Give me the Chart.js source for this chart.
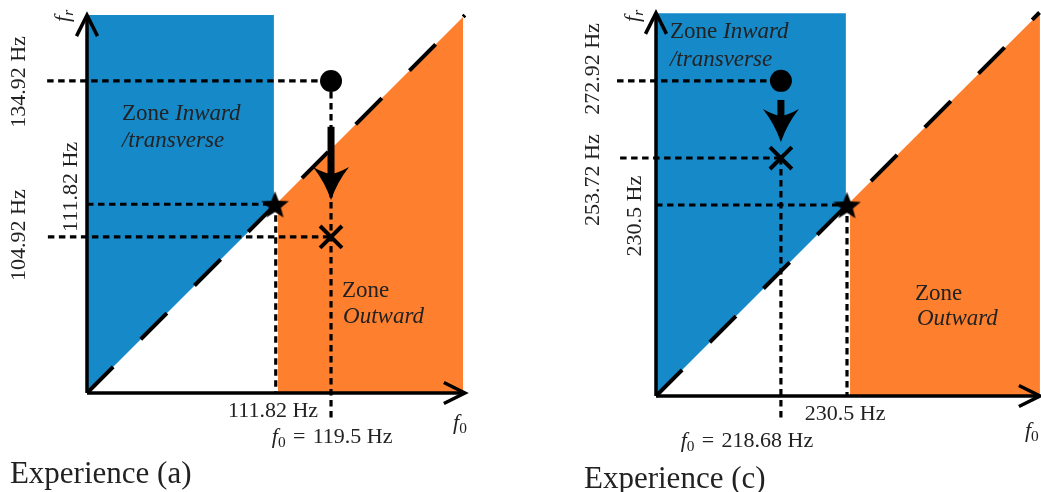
<!DOCTYPE html>
<html><head><meta charset="utf-8">
<script src="https://cdn.jsdelivr.net/npm/chart.js@4.4.1/dist/chart.umd.min.js"></script>
<style>
html,body{margin:0;padding:0;background:#fff;width:1041px;height:492px;overflow:hidden}
#wrapA{position:absolute;left:0;top:0;width:520px;height:492px}
#wrapC{position:absolute;left:520px;top:0;width:521px;height:492px}
canvas{display:block}
</style></head><body>
<div id="wrapA"><canvas id="cA" width="520" height="492"></canvas></div>
<div id="wrapC"><canvas id="cC" width="521" height="492"></canvas></div>
<script>
// ---------- Panel (a) : schematic units, diagonal f_r = f_0 runs 0..100 ----------
const A_BLUE_X   = [0, 0, 49.7, 49.7];
const A_BLUE_Y   = [0, 100.5, 100.5, 49.7];
const A_ORANGE_X = [50.8, 50.8, 100, 100];
const A_ORANGE_Y = [0, 50.8, 100, 0];
const A_DIAG     = [0, 100.5];
const A_AXIS_END = [100.5, 100.5];
const A_START    = [64.9, 83.0];   // initial point (circle)
const A_END      = [64.9, 41.5];   // final point (cross)
const A_STAR     = [50.0, 50.2];   // critical point (star)
const A_ARROW    = [64.9, 70.8, 51.3]; // x, shaft start, tip
const A_H_Y      = [83.0, 50.2, 41.5];
const A_H_X0     = [-10.6, 0, -10.4];
const A_H_X1     = [64.9, 50.0, 64.9];
const A_V_X      = [50.2, 64.9];
const A_V_Y0     = [50.2, 83.0];
const A_V_Y1     = [0, -6.9];
const A_Y_LABELS = ['134.92 Hz', '111.82 Hz', '104.92 Hz'];
const A_X_LABELS = ['111.82 Hz', '119.5 Hz'];
const A_CAPTION  = 'Experience (a)';

// ---------- Panel (c) ----------
const C_BLUE_X   = [0, 0, 49.7, 49.7];
const C_BLUE_Y   = [0, 100.2, 100.2, 49.7];
const C_ORANGE_X = [50.8, 50.8, 100.5, 100.5];
const C_ORANGE_Y = [0, 50.8, 100.3, 0];
const C_DIAG     = [0, 100.4];
const C_AXIS_END = [100.5, 100.3];
const C_START    = [32.7, 82.5];
const C_END      = [32.7, 62.3];
const C_STAR     = [50.0, 50.0];
const C_ARROW    = [32.7, 77.5, 66.5];
const C_H_Y      = [82.5, 62.3, 50.0];
const C_H_X0     = [-10.2, -9.4, 0];
const C_H_X1     = [32.7, 32.7, 50.0];
const C_V_X      = [32.7, 50.0];
const C_V_Y0     = [62.3, 50.0];
const C_V_Y1     = [-5.8, 0];
const C_Y_LABELS = ['272.92 Hz', '253.72 Hz', '230.5 Hz'];
const C_X_LABELS = ['230.5 Hz', '218.68 Hz'];
const C_CAPTION  = 'Experience (c)';

const BLUE = '#1689c9', ORANGE = '#fe7f2d', TXT = '#222222';
const FAM = '"Liberation Serif", serif';
const EQ = '\u2004=\u2004';

function pts(xs, ys) { return xs.map((x, i) => ({x, y: ys[i]})); }
function seg(x0, y0, x1, y1) { return [{x: x0, y: y0}, {x: x1, y: y1}]; }

function makeStar(R, r) {
  const c = document.createElement('canvas');
  const s = Math.ceil(2 * R + 2);
  c.width = c.height = s;
  const g = c.getContext('2d');
  g.translate(s / 2, s / 2 + 1.5);
  g.beginPath();
  for (let i = 0; i < 10; i++) {
    const rr = i % 2 ? r : R;
    const a = -Math.PI / 2 + i * Math.PI / 5;
    g.lineTo(rr * Math.cos(a), rr * Math.sin(a));
  }
  g.closePath(); g.fillStyle = '#000'; g.fill();
  return c;
}
const STAR_IMG = makeStar(14.5, 6.2);

function fontFor(st, size) {
  const it = st === 'i' || st === 'si';
  const sz = st[0] === 's' ? size * 0.7 : size;
  return (it ? 'italic ' : '') + sz.toFixed(1) + 'px ' + FAM;
}
function drawRuns(ctx, runs, cx, cy, size, align, rot) {
  ctx.save();
  ctx.translate(cx, cy);
  if (rot) ctx.rotate(-Math.PI / 2);
  let w = 0;
  for (const [t, s] of runs) { ctx.font = fontFor(s, size); w += ctx.measureText(t).width; }
  let x0 = align === 'center' ? -w / 2 : align === 'right' ? -w : 0;
  ctx.textBaseline = 'alphabetic'; ctx.textAlign = 'left'; ctx.fillStyle = TXT;
  const base = size * 0.34;
  for (const [t, s] of runs) {
    ctx.font = fontFor(s, size);
    ctx.fillText(t, x0, base + (s[0] === 's' ? size * 0.18 : 0));
    x0 += ctx.measureText(t).width;
  }
  ctx.restore();
}

function makeAnnot(cfg) {
  return {
    id: 'annot',
    afterDatasetsDraw(chart) {
      const {ctx} = chart; const sx = chart.scales.x, sy = chart.scales.y;
      const X = v => sx.getPixelForValue(v), Y = v => sy.getPixelForValue(v);
      ctx.save();
      ctx.strokeStyle = '#000'; ctx.lineWidth = 3.5; ctx.lineJoin = 'miter'; ctx.lineCap = 'butt';
      const tx = X(cfg.axisEnd[0]), ty = Y(0);
      ctx.beginPath(); ctx.moveTo(tx - 21, ty - 10.5); ctx.lineTo(tx, ty); ctx.lineTo(tx - 21, ty + 10.5); ctx.stroke();
      const ux = X(0), uy = Y(cfg.axisEnd[1]);
      ctx.beginPath(); ctx.moveTo(ux - 10.5, uy + 21); ctx.lineTo(ux, uy); ctx.lineTo(ux + 10.5, uy + 21); ctx.stroke();
      const ax = X(cfg.arrow[0]), a0 = Y(cfg.arrow[1]), tip = Y(cfg.arrow[2]);
      const L = 33, W = 18, N = 26;
      ctx.fillStyle = '#000';
      ctx.fillRect(ax - 3.5, a0, 7, (tip - N + 3) - a0);
      ctx.beginPath();
      ctx.moveTo(ax, tip);
      ctx.quadraticCurveTo(ax - W * 0.35, tip - L * 0.55, ax - W, tip - L);
      ctx.quadraticCurveTo(ax - W * 0.4, tip - N - 1, ax, tip - N);
      ctx.quadraticCurveTo(ax + W * 0.4, tip - N - 1, ax + W, tip - L);
      ctx.quadraticCurveTo(ax + W * 0.35, tip - L * 0.55, ax, tip);
      ctx.closePath(); ctx.fill();
      for (const t of cfg.texts) drawRuns(ctx, t.r, X(t.p[0]), Y(t.p[1]), t.s || 22, t.a || 'center', t.rot);
      ctx.restore();
    }
  };
}

function buildPanel(id, d, view, texts) {
  const ds = [];
  const line = (data, extra) => Object.assign({data, showLine: true, pointRadius: 0, borderColor: '#000', fill: false}, extra);
  ds.push(line(pts(d.blueX, d.blueY), {fill: 'shape', backgroundColor: BLUE, borderWidth: 0, order: 50}));
  ds.push(line(pts(d.orangeX, d.orangeY), {fill: 'shape', backgroundColor: ORANGE, borderWidth: 0, order: 49}));
  ds.push(line(seg(d.diag[0], d.diag[0], d.diag[1], d.diag[1]), {borderWidth: 4, borderDash: [37, 39], order: 40}));
  d.hY.forEach((yv, i) => ds.push(line(seg(d.hX0[i], yv, d.hX1[i], yv), {borderWidth: 3.2, borderDash: [6.5, 4.5], order: 30})));
  d.vX.forEach((xv, i) => ds.push(line(seg(xv, d.vY0[i], xv, d.vY1[i]), {borderWidth: 3.2, borderDash: [6.5, 4.5], order: 30})));
  ds.push(line(seg(0, 0, d.axisEnd[0] - 0.4, 0), {borderWidth: 3.5, order: 20}));
  ds.push(line(seg(0, 0, 0, d.axisEnd[1] - 0.4), {borderWidth: 3.5, order: 20}));
  ds.push({data: [{x: d.start[0], y: d.start[1]}], pointStyle: 'circle', pointRadius: 11, backgroundColor: '#000', borderWidth: 0, order: 1});
  ds.push({data: [{x: d.star[0], y: d.star[1]}], pointStyle: STAR_IMG, pointRadius: 14, order: 0});
  ds.push({data: [{x: d.end[0], y: d.end[1]}], pointStyle: 'crossRot', pointRadius: 15.5, borderColor: '#000', borderWidth: 4, order: 0});
  return new Chart(document.getElementById(id), {
    type: 'scatter',
    data: {datasets: ds},
    options: {
      responsive: false, animation: false, devicePixelRatio: 1, events: [],
      layout: {padding: 0, autoPadding: false},
      plugins: {legend: {display: false}, tooltip: {enabled: false}},
      scales: {
        x: {type: 'linear', display: false, bounds: 'data', grace: 0, min: view[0], max: view[1]},
        y: {type: 'linear', display: false, bounds: 'data', grace: 0, min: view[2], max: view[3]}
      }
    },
    plugins: [makeAnnot({axisEnd: d.axisEnd, arrow: d.arrow, texts})]
  });
}

buildPanel('cA', {
  blueX: A_BLUE_X, blueY: A_BLUE_Y, orangeX: A_ORANGE_X, orangeY: A_ORANGE_Y, diag: A_DIAG,
  axisEnd: A_AXIS_END, start: A_START, end: A_END, star: A_STAR, arrow: A_ARROW,
  hY: A_H_Y, hX0: A_H_X0, hX1: A_H_X1, vX: A_V_X, vY0: A_V_Y0, vY1: A_V_Y1
}, [-87 / 3.76, 433 / 3.76, -99 / 3.76, 393 / 3.76], [
  {r: [['f', 'i'], ['r', 'si']], p: [-6.65, 100.3], rot: 1},
  {r: [[A_Y_LABELS[0], 'n']], p: [-18.35, 82.7], rot: 1},
  {r: [[A_Y_LABELS[1], 'n']], p: [-4.52, 54.8], rot: 1},
  {r: [[A_Y_LABELS[2], 'n']], p: [-18.35, 42.0], rot: 1},
  {r: [[A_X_LABELS[0], 'n']], p: [49.5, -4.5]},
  {r: [['f', 'i'], ['0', 's'], [EQ + A_X_LABELS[1], 'n']], p: [65.2, -11.2]},
  {r: [['f', 'i'], ['0', 's']], p: [99.2, -7.7]},
  {r: [['Zone ', 'n'], ['Inward', 'i']], p: [9.3, 74.7], a: 'left', s: 23},
  {r: [['/transverse', 'i']], p: [9.3, 67.6], a: 'left', s: 23},
  {r: [['Zone', 'n']], p: [67.8, 27.7], a: 'left', s: 23},
  {r: [['Outward', 'i']], p: [68.1, 20.7], a: 'left', s: 23},
  {r: [[A_CAPTION, 'n']], p: [-20.5, -21.1], a: 'left', s: 31}
]);

buildPanel('cC', {
  blueX: C_BLUE_X, blueY: C_BLUE_Y, orangeX: C_ORANGE_X, orangeY: C_ORANGE_Y, diag: C_DIAG,
  axisEnd: C_AXIS_END, start: C_START, end: C_END, star: C_STAR, arrow: C_ARROW,
  hY: C_H_Y, hX0: C_H_X0, hX1: C_H_X1, vX: C_V_X, vY0: C_V_Y0, vY1: C_V_Y1
}, [-136 / 3.82, 385 / 3.82, -96 / 3.82, 396 / 3.82], [
  {r: [['f', 'i'], ['r', 'si']], p: [-6.28, 99.5], rot: 1},
  {r: [[C_Y_LABELS[0], 'n']], p: [-16.75, 85.6], rot: 1},
  {r: [[C_Y_LABELS[1], 'n']], p: [-16.75, 56.5], rot: 1},
  {r: [[C_Y_LABELS[2], 'n']], p: [-5.76, 47.1], rot: 1},
  {r: [[C_X_LABELS[0], 'n']], p: [49.5, -4.2]},
  {r: [['f', 'i'], ['0', 's'], [EQ + C_X_LABELS[1], 'n']], p: [23.8, -11.5]},
  {r: [['f', 'i'], ['0', 's']], p: [96.6, -8.9], a: 'left'},
  {r: [['Zone ', 'n'], ['Inward', 'i']], p: [3.66, 95.8], a: 'left', s: 23},
  {r: [['/transverse', 'i']], p: [3.66, 88.5], a: 'left', s: 23},
  {r: [['Zone', 'n']], p: [67.8, 27.2], a: 'left', s: 23},
  {r: [['Outward', 'i']], p: [68.3, 20.7], a: 'left', s: 23},
  {r: [[C_CAPTION, 'n']], p: [-18.85, -21.2], a: 'left', s: 31}
]);
</script>
</body></html>
